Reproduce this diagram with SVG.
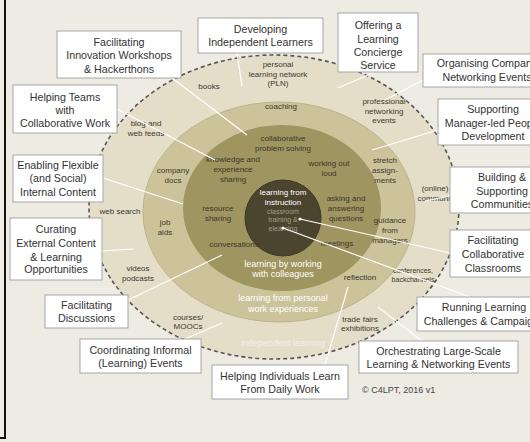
<svg xmlns="http://www.w3.org/2000/svg" width="530" height="442" viewBox="0 0 530 442">
<style>
text{font-family:"Liberation Sans",Arial,sans-serif;text-anchor:middle}
.r{font-size:8px;fill:#3a382c}
.s{font-size:7px;fill:#3a382c}
.w{font-size:9px;fill:#ffffff}
.wi{font-size:8px;fill:#ffffff}
.g{font-size:7px;fill:#a39d82}
.b{font-size:10.7px;fill:#333333}
.box rect{fill:#ffffff;stroke:#a6a6a6;stroke-width:1}
#connectors line{stroke:#ffffff;stroke-width:1.2}
</style>
<rect x="0" y="0" width="530" height="442" fill="#eeebe3"/>
<path d="M5,0 V438 H0" fill="none" stroke="#111" stroke-width="2"/>
<g id="rings">
<ellipse cx="274" cy="207" rx="185" ry="152" fill="#e4dec9" stroke="#555" stroke-width="1.6" stroke-dasharray="4 3"/>
<ellipse cx="279" cy="212" rx="136" ry="110" fill="#ccc39b" stroke="#bdb48b" stroke-width="1"/>
<ellipse cx="282" cy="208" rx="99" ry="83" fill="#9e9560"/>
<circle cx="283" cy="218" r="38" fill="#4b452f" stroke="#3e3925" stroke-width="1"/>
</g>
<g id="ring-labels">
<text class="r" x="278" y="67">personal</text>
<text class="r" x="278" y="76.5">learning network</text>
<text class="r" x="278" y="86">(PLN)</text>
<text class="r" x="209" y="89">books</text>
<text class="r" x="281" y="109">coaching</text>
<text class="r" x="146" y="126">blog and</text>
<text class="r" x="146" y="136">web feeds</text>
<text class="r" x="384" y="104">professional</text>
<text class="r" x="384" y="113.5">networking</text>
<text class="r" x="384" y="123">events</text>
<text class="r" x="283" y="141">collaborative</text>
<text class="r" x="283" y="150.5">problem solving</text>
<text class="r" x="233" y="162">knowledge and</text>
<text class="r" x="233" y="172">experience</text>
<text class="r" x="233" y="182">sharing</text>
<text class="r" x="329" y="166">working out</text>
<text class="r" x="329" y="176">loud</text>
<text class="r" x="173" y="173">company</text>
<text class="r" x="173" y="183">docs</text>
<text class="r" x="385" y="163">stretch</text>
<text class="r" x="385" y="173">assign-</text>
<text class="r" x="385" y="183">ments</text>
<text class="r" x="435" y="191">(online)</text>
<text class="r" x="440" y="201">communities</text>
<text class="wi" x="283" y="195">learning from</text>
<text class="wi" x="283" y="204.5">instruction</text>
<text class="g" x="283" y="213.5">classroom</text>
<text class="g" x="283" y="222">training &amp;</text>
<text class="g" x="283" y="230.5">elearning</text>
<text class="r" x="346" y="201">asking and</text>
<text class="r" x="346" y="211">answering</text>
<text class="r" x="346" y="221">questions</text>
<text class="r" x="218" y="211">resource</text>
<text class="r" x="218" y="221">sharing</text>
<text class="r" x="120" y="214">web search</text>
<text class="r" x="165" y="225">job</text>
<text class="r" x="165" y="235">aids</text>
<text class="r" x="390" y="223">guidance</text>
<text class="r" x="390" y="233">from</text>
<text class="r" x="390" y="243">managers</text>
<text class="r" x="234" y="247">conversations</text>
<text class="r" x="337" y="246">meetings</text>
<text class="w" x="283" y="266.5">learning by working</text>
<text class="w" x="283" y="277">with colleagues</text>
<text class="r" x="138" y="271">videos</text>
<text class="r" x="138" y="281">podcasts</text>
<text class="r" x="360" y="280">reflection</text>
<text class="s" x="413" y="272.5">conferences,</text>
<text class="s" x="413" y="281.5">backchannels</text>
<text class="w" x="283" y="301">learning from personal</text>
<text class="w" x="283" y="311.5">work experiences</text>
<text class="r" x="188" y="320">courses/</text>
<text class="r" x="188" y="329">MOOCs</text>
<text class="r" x="360" y="322">trade fairs</text>
<text class="r" x="360" y="331">exhibitions</text>
<text class="w" x="283" y="346" style="fill:#f4f1e8">independent learning</text>
<text x="362" y="393" style="font-size:9px;fill:#444;text-anchor:start">© C4LPT, 2016 v1</text>
</g>
<g id="connectors">
<line x1="172" y1="78" x2="247" y2="135"/>
<line x1="117" y1="109" x2="215" y2="160"/>
<line x1="237" y1="53" x2="242" y2="86"/>
<line x1="375" y1="72" x2="338" y2="88"/>
<line x1="423" y1="80" x2="385" y2="100"/>
<line x1="438" y1="130" x2="372" y2="150"/>
<line x1="450" y1="196" x2="425" y2="201"/>
<line x1="300" y1="219" x2="450" y2="253"/>
<line x1="283" y1="228" x2="470" y2="297"/>
<line x1="378" y1="307" x2="422" y2="341"/>
<line x1="348" y1="287" x2="325" y2="365"/>
<line x1="222" y1="323" x2="185" y2="339"/>
<line x1="222" y1="255" x2="128" y2="300"/>
<line x1="102" y1="251" x2="133" y2="249"/>
<line x1="103" y1="178" x2="183" y2="204"/>
<circle cx="300" cy="219" r="1.6" fill="#fff"/>
<circle cx="283" cy="228" r="1.6" fill="#fff"/>
</g>
<g id="n-innovation" class="box"><rect x="57" y="31" width="124" height="47"/><text class="b" x="119" y="45.5">Facilitating</text><text class="b" x="119" y="59">Innovation Workshops</text><text class="b" x="119" y="72.8">&amp; Hackerthons</text></g>
<g id="n-teams" class="box"><rect x="13" y="85" width="104" height="48"/><text class="b" x="65" y="100.5">Helping Teams</text><text class="b" x="65" y="114">with</text><text class="b" x="65" y="127">Collaborative Work</text></g>
<g id="n-independent" class="box"><rect x="198" y="18" width="125" height="35"/><text class="b" x="260.5" y="33">Developing</text><text class="b" x="260.5" y="46">Independent Learners</text></g>
<g id="n-concierge" class="box"><rect x="338" y="13" width="80" height="59"/><text class="b" x="378" y="29">Offering a</text><text class="b" x="378" y="42.5">Learning</text><text class="b" x="378" y="56">Concierge</text><text class="b" x="378" y="69">Service</text></g>
<g id="n-company" class="box"><rect x="423" y="54" width="120" height="33"/><text class="b" x="487" y="67">Organising Company</text><text class="b" x="487" y="81">Networking Events</text></g>
<g id="n-manager" class="box"><rect x="438" y="99" width="110" height="46"/><text class="b" x="493" y="113">Supporting</text><text class="b" x="493" y="126.5">Manager-led People</text><text class="b" x="493" y="140">Development</text></g>
<g id="n-communities" class="box"><rect x="450" y="167" width="100" height="46"/><text class="b" x="502" y="181">Building &amp;</text><text class="b" x="502" y="194.5">Supporting</text><text class="b" x="502" y="208">Communities</text></g>
<g id="n-classrooms" class="box"><rect x="450" y="230" width="90" height="47"/><text class="b" x="493" y="244">Facilitating</text><text class="b" x="493" y="258">Collaborative</text><text class="b" x="493" y="271.5">Classrooms</text></g>
<g id="n-challenges" class="box"><rect x="417" y="297" width="130" height="34"/><text class="b" x="484" y="311">Running Learning</text><text class="b" x="484" y="325">Challenges &amp; Campaigns</text></g>
<g id="n-largescale" class="box"><rect x="359" y="341" width="159" height="32"/><text class="b" x="438.5" y="355">Orchestrating Large-Scale</text><text class="b" x="438.5" y="368">Learning &amp; Networking Events</text></g>
<g id="n-dailywork" class="box"><rect x="212" y="365" width="136" height="34"/><text class="b" x="280" y="380">Helping Individuals Learn</text><text class="b" x="280" y="393">From Daily Work</text></g>
<g id="n-events" class="box"><rect x="80" y="339" width="121" height="34"/><text class="b" x="140.5" y="354">Coordinating Informal</text><text class="b" x="140.5" y="367">(Learning) Events</text></g>
<g id="n-discussions" class="box"><rect x="45" y="295" width="83" height="33"/><text class="b" x="86.5" y="309">Facilitating</text><text class="b" x="86.5" y="322">Discussions</text></g>
<g id="n-curating" class="box"><rect x="10" y="218" width="92" height="62"/><text class="b" x="56" y="233">Curating</text><text class="b" x="56" y="247">External Content</text><text class="b" x="56" y="260.5">&amp; Learning</text><text class="b" x="56" y="273">Opportunities</text></g>
<g id="n-internal" class="box"><rect x="13" y="155" width="90" height="47"/><text class="b" x="58" y="169">Enabling Flexible</text><text class="b" x="58" y="182">(and Social)</text><text class="b" x="58" y="196">Internal Content</text></g>
</svg>
